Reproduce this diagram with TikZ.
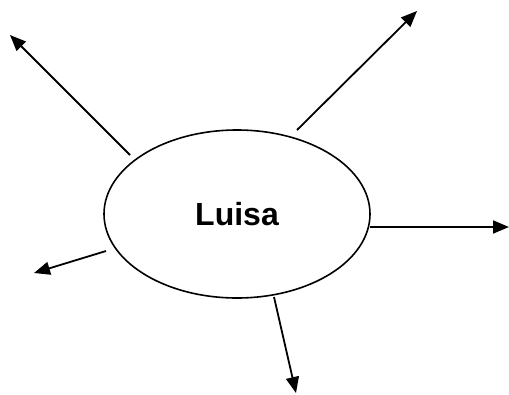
\documentclass[tikz,border=0pt]{standalone}
\usepackage{fontspec}
\setmainfont{Liberation Sans}
\usetikzlibrary{shapes.geometric,arrows.meta}
\begin{document}
\begin{tikzpicture}[x=1pt,y=-1pt,
  bubble/.style={draw,ellipse,line width=1.6pt,minimum width=266pt,minimum height=168pt,inner sep=0pt,font=\fontsize{32}{36}\selectfont\bfseries},
  ray/.style={line width=1.8pt,-{Triangle[length=16pt,width=13pt]}}]
\useasboundingbox (0,0) rectangle (509,394);
\node[bubble] (L) at (237,214) {Luisa};
\coordinate (s1) at (130,155); \coordinate (t1) at (10,35);
\coordinate (s2) at (297,130); \coordinate (t2) at (417,11);
\coordinate (s3) at (370,227); \coordinate (t3) at (509,227);
\coordinate (s4) at (106,251); \coordinate (t4) at (34,273);
\coordinate (s5) at (274,297); \coordinate (t5) at (296,393);
\draw[ray] (s1) -- (t1);
\draw[ray] (s2) -- (t2);
\draw[ray] (s3) -- (t3);
\draw[ray] (s4) -- (t4);
\draw[ray] (s5) -- (t5);
\end{tikzpicture}
\end{document}
